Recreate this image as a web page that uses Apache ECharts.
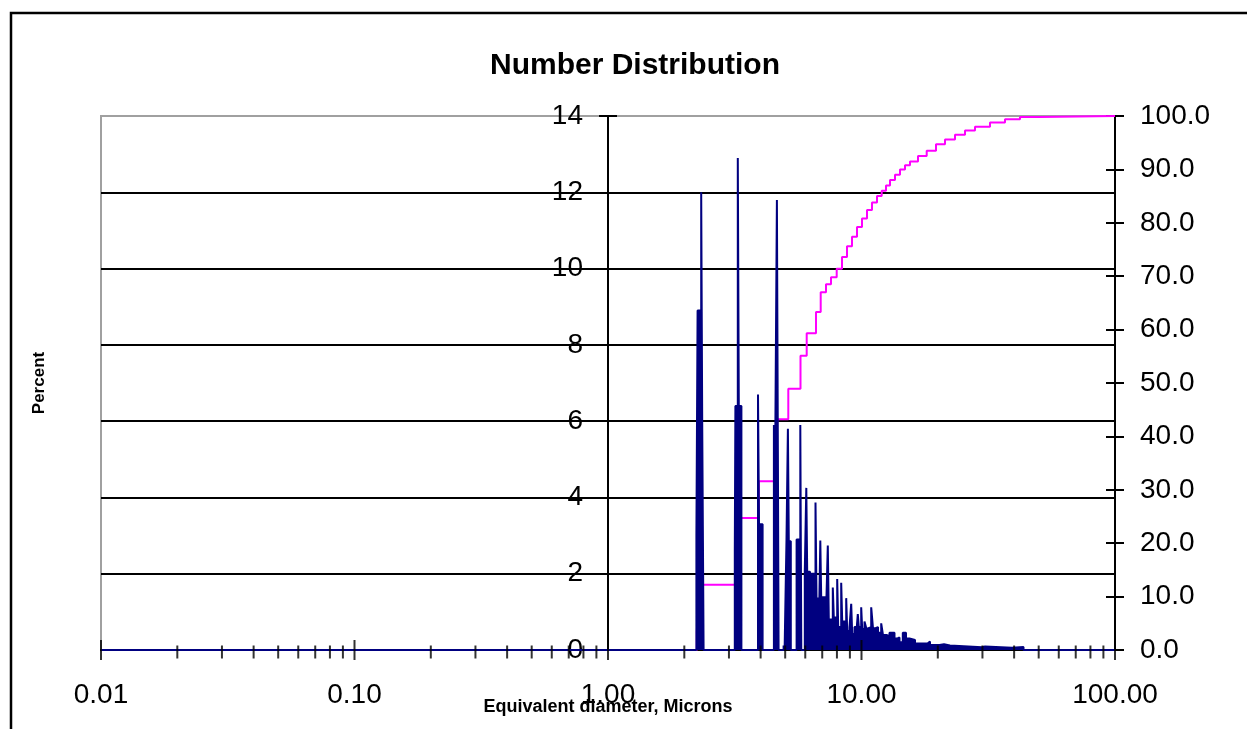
<!DOCTYPE html>
<html><head><meta charset="utf-8">
<script src="https://cdn.jsdelivr.net/npm/echarts@6/dist/echarts.min.js"></script>
<style>html,body{margin:0;padding:0;background:#fff;}#c{width:1247px;height:729px;}</style>
</head><body><div id="c"></div>
<script>
const titleText = 'Number Distribution';
const xAxisTitle = 'Equivalent diameter, Microns';
const yAxisTitle = 'Percent';
const xMajorTicks = [0.01, 0.1, 1, 10, 100];
const xMinorTicks = [0.02,0.03,0.04,0.05,0.06,0.07,0.08,0.09,
  0.2,0.3,0.4,0.5,0.6,0.7,0.8,0.9, 2,3,4,5,6,7,8,9, 20,30,40,50,60,70,80,90];

// Number distribution: diameter (microns) where each level starts, and percent
const numDiam = [0.01,
  2.2321,2.2565,2.3315,2.3528,2.3829,
  3.1637,3.1810,3.2511,3.2808,3.3592,
  3.9059,3.9415,4.0725,
  4.5127,4.5663,4.6374,4.6797,4.7095,
  4.9284,4.9733,
  5.0599,5.1247,5.1666,5.2615,
  5.5461,5.7357,5.7879,
  5.9749,6.0569,6.1066,6.2639,6.3096,6.5848,6.6449,6.7728,
  6.8783,6.9347,7.2438,7.3632,7.4304,7.7052,7.7756,8.0194,8.0926,
  8.3162,8.3921,8.7026,8.7820,8.9674,9.1070,9.1901,9.3840,9.5561,9.6697,9.7578,
  9.9726,10.0639,10.2764,10.4647,10.6565,10.9211,11.1012,11.3561,11.6169,
  11.9596,12.1567,12.6064,12.8960,13.4951,13.8051,14.1222,14.5518,14.9811,
  15.4649,16.2573,18.2119,18.6303,20.3093,21.1567,22.3416,29.8779,30.7033,
  39.2366,43.5569,100];
const numPct = [0,
  3.0,8.9,12.0,6.0,0,
  2.6,6.4,12.9,6.4,0,
  6.7,3.3,0,
  5.9,5.2,11.8,5.0,0,
  0.12,0,
  2.9,5.8,2.85,0,
  2.9,5.9,0,
  2.08,4.25,2.05,0.1,2.0,3.87,1.35,0.1,
  2.87,1.38,0.9,2.74,0.8,1.64,0.85,1.86,0.6,
  1.76,0.75,1.36,0.5,0.6,1.21,0.42,0.6,0.5,0.94,0.6,
  1.12,0.55,0.75,0.55,0.6,1.12,0.57,0.6,0.45,
  0.70,0.39,0.36,0.45,0.3,0.33,0.2,0.45,0.3,
  0.26,0.17,0.22,0.13,0.15,0.12,0.07,0.09,0.06,
  0.08,0,0];

// Cumulative percent (right axis): diameter of each step and level after it
const cumDiam = [0.01,2.2402,2.2709,2.3168,3.1839,3.2334,3.9344,4.5997,4.6543,5.1433,
  5.7461,6.0789,6.6148,6.9033,7.2438,7.5803,7.9832,8.3769,8.7660,9.1733,9.5995,
  10.0456,10.5124,11.0007,11.5119,12.0140,12.4925,12.9547,13.5566,14.1864,14.8456,
  15.5355,16.7063,18.0802,19.6738,21.3497,23.3798,25.6026,28.0371,32.1296,36.8196,
  42.1942,50.5994,100];
const cumPct = [0,3.4,9.4,12.2,18.4,24.7,31.6,37.2,43.2,48.9,
  55.1,59.3,63.3,67.0,68.5,69.8,71.4,73.6,75.6,77.4,79.2,
  80.8,82.4,83.8,85.0,86.0,87.0,88.0,89.0,90.0,90.8,
  91.5,92.5,93.5,94.7,95.6,96.5,97.3,98.0,98.8,99.4,
  99.8,100,100];

const FONT = 'Liberation Sans';
const chart = echarts.init(document.getElementById('c'));
chart.setOption({
  animation: false,
  backgroundColor: '#fff',
  title: {text: titleText, left: 485, top: 46,
    textStyle: {fontFamily: FONT, fontSize: 30, fontWeight: 'bold', color: '#000'}},
  graphic: [{type:'rect', silent:true, z:-10,
    shape:{x:11, y:13, width:1300, height:800},
    style:{fill:'none', stroke:'#000', lineWidth:2.5}}],
  grid: {left:101, top:116, right:132, bottom:79, show:true, borderColor:'#a0a0a0',
    borderWidth:2, backgroundColor:'#fff', containLabel:false, outerBoundsMode:'none'},
  xAxis: [{type:'log', logBase:10, min:0.01, max:100, position:'bottom',
    name: xAxisTitle, nameLocation:'middle', nameGap:48, nameMoveOverlap:false,
    nameTextStyle:{fontFamily:FONT, fontSize:18, fontWeight:'bold', color:'#000'},
    axisLine:{show:true, onZero:false, lineStyle:{color:'#000', width:2}},
    axisTick:{show:false}, minorTick:{show:false}, splitLine:{show:false},
    axisLabel:{fontFamily:FONT, fontSize:28, color:'#000', margin:31,
      showMinLabel:true, showMaxLabel:true,
      formatter: v => Number(v).toFixed(2)}}],
  yAxis: [
    {type:'value', position:'left', offset:-507, min:0, max:14, interval:2,
      name: yAxisTitle, nameLocation:'middle', nameGap:560, nameRotate:90, nameMoveOverlap:false,
      nameTextStyle:{fontFamily:FONT, fontSize:17, fontWeight:'bold', color:'#000'},
      axisLine:{show:true, lineStyle:{color:'#000', width:2}},
      axisTick:{show:true, inside:false, length:9, lineStyle:{color:'#000', width:2}},
      splitLine:{show:true, showMinLine:false, showMaxLine:false, lineStyle:{color:'#000', width:2}},
      axisLabel:{fontFamily:FONT, fontSize:28, color:'#000', margin:25}},
    {type:'value', position:'right', min:0, max:100, interval:10,
      axisLine:{show:true, lineStyle:{color:'#000', width:2}},
      axisTick:{show:true, inside:false, length:9, lineStyle:{color:'#000', width:2}},
      splitLine:{show:false},
      axisLabel:{fontFamily:FONT, fontSize:28, color:'#000', margin:25,
        formatter: v => Number(v).toFixed(1)}},
    {type:'value', position:'left', offset:-507, min:0, max:14, interval:2,
      axisLine:{show:false}, axisLabel:{show:false}, splitLine:{show:false},
      axisTick:{show:true, inside:true, length:9, lineStyle:{color:'#000', width:2}}},
    {type:'value', position:'right', min:0, max:100, interval:10,
      axisLine:{show:false}, axisLabel:{show:false}, splitLine:{show:false},
      axisTick:{show:true, inside:true, length:9, lineStyle:{color:'#000', width:2}}}
  ],
  series: [
    {type:'line', name:'Cumulative', xAxisIndex:0, yAxisIndex:1, step:'end',
      data: cumDiam.map((d,i)=>[d, cumPct[i]]), showSymbol:false, z:2,
      lineStyle:{color:'#ff00ff', width:2}, itemStyle:{color:'#ff00ff'}},
    {type:'line', name:'Number', xAxisIndex:0, yAxisIndex:0, step:'end',
      data: numDiam.map((d,i)=>[d, numPct[i]]), showSymbol:false, z:3,
      lineStyle:{color:'#000080', width:2}, itemStyle:{color:'#000080'},
      areaStyle:{color:'#000080', opacity:1}},
    {type:'scatter', xAxisIndex:0, yAxisIndex:0, clip:false, silent:true, z:5,
      data: xMajorTicks.map(v=>[v,0]), symbol:'rect', symbolSize:[2,20],
      itemStyle:{color:'#000'}},
    {type:'scatter', xAxisIndex:0, yAxisIndex:0, clip:false, silent:true, z:5,
      data: xMinorTicks.map(v=>[v,0]), symbol:'rect', symbolSize:[2,13], symbolOffset:[0,2],
      itemStyle:{color:'#000'}}
  ]
});
</script></body></html>
